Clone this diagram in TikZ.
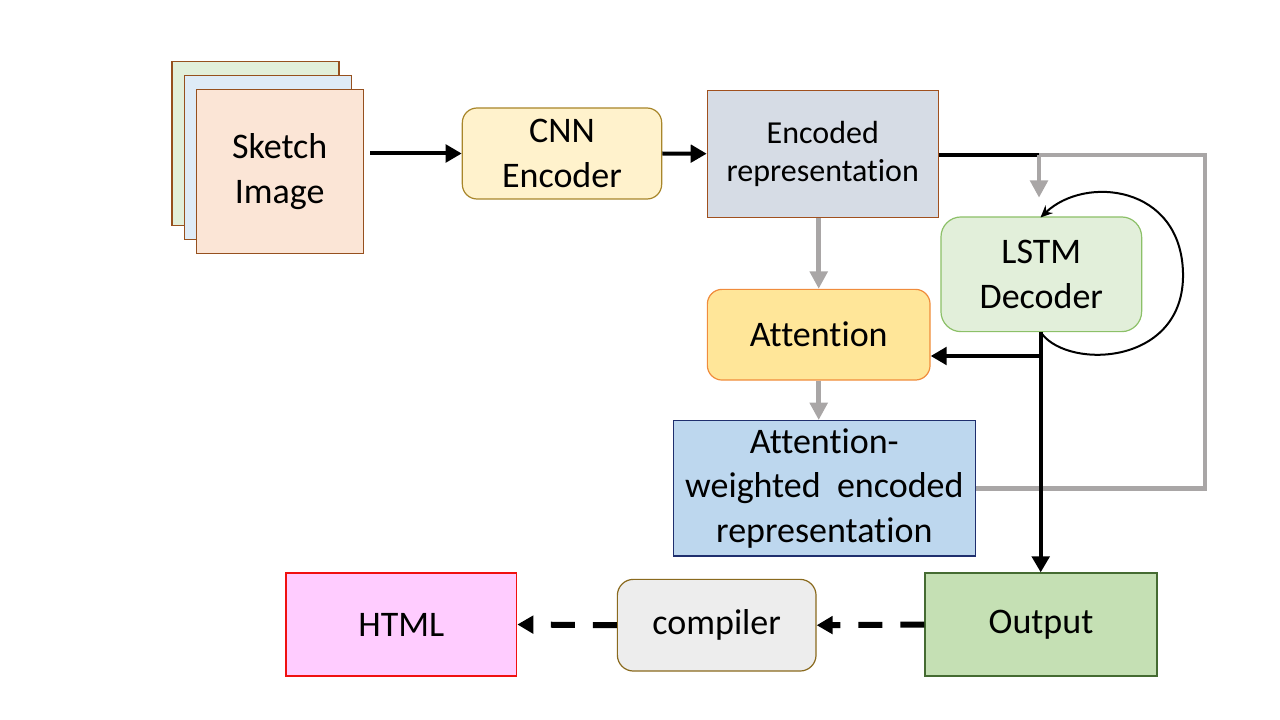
\documentclass[tikz,border=0pt]{standalone}
\usepackage{fontspec}
\setmainfont[Ligatures=NoCommon]{Carlito}
\usepackage{xcolor}
\definecolor{sheetborder}{RGB}{150, 80, 30}
\definecolor{sheetgreen}{HTML}{E2EFDA}
\definecolor{sheetblue}{HTML}{DEEBF7}
\definecolor{sheetpeach}{HTML}{FBE5D6}
\definecolor{cnnfill}{HTML}{FFF2CC}
\definecolor{cnnborder}{HTML}{A8862A}
\definecolor{encfill}{HTML}{D6DCE5}
\definecolor{encborder}{HTML}{A0501E}
\definecolor{lstmfill}{HTML}{E2EFDA}
\definecolor{lstmborder}{HTML}{8CC068}
\definecolor{attfill}{HTML}{FFE699}
\definecolor{attborder}{HTML}{F08C3C}
\definecolor{awfill}{HTML}{BDD7EE}
\definecolor{awborder}{HTML}{1F2F6E}
\definecolor{outfill}{HTML}{C5E0B4}
\definecolor{outborder}{HTML}{456B32}
\definecolor{compfill}{HTML}{EDEDED}
\definecolor{compborder}{HTML}{8A6A1E}
\definecolor{htmlfill}{HTML}{FFCCFF}
\definecolor{htmlborder}{HTML}{F01010}
\definecolor{linkgray}{HTML}{A9A6A6}
\usetikzlibrary{arrows.meta, positioning, calc}

\begin{document}
\begin{tikzpicture}[
    x=0.75pt, y=-0.75pt,
    bigfont/.style={font=\fontsize{27}{33.5}\selectfont},
    smallfont/.style={font=\fontsize{24}{28.5}\selectfont},
    sheet/.style={rectangle, draw=sheetborder, line width=0.9pt,
                  minimum width=125.25pt, minimum height=123pt, inner sep=0pt},
    block/.style={rectangle, line width=0.9pt, align=center, inner sep=0pt, bigfont},
    softblock/.style={block, rounded corners=11pt},
    flow/.style={-{Triangle[length=12pt, width=13pt]}, line width=3pt, black},
    feed/.style={-{Triangle[length=13pt, width=13pt]}, line width=3.5pt, linkgray},
    result/.style={-{Triangle[length=12pt, width=13pt]}, line width=4.5pt, black,
                   dash pattern=on 18pt off 13.5pt}
]
    \useasboundingbox (0,0) rectangle (1280,720);

    % Input sheets
    \node[sheet, fill=sheetgreen] (s1) at (255.5,143.3) {};
    \node[sheet, fill=sheetblue] (s2) at (268,157.5) {};
    \node[sheet, fill=sheetpeach, align=center, bigfont] (sketch) at (279.7,171.5) {Sketch\\Image};

    % Encoder side
    \node[softblock, fill=cnnfill, draw=cnnborder, minimum width=149.5pt, minimum height=68.25pt]
        (cnn) at (562,153.5) {CNN\\Encoder};
    \node[block, fill=encfill, draw=encborder, minimum width=173.25pt, minimum height=95.25pt, smallfont]
        (enc) at (822.8,153.7) {Encoded\\representation};
    \node[softblock, fill=attfill, draw=attborder, minimum width=167pt, minimum height=68pt]
        (att) at (818.7,334.7) {Attention};
    \node[block, fill=awfill, draw=awborder, minimum width=226.5pt, minimum height=101.5pt]
        (aw) at (824.3,488.3) {Attention-\\weighted~~encoded\\representation};

    % Decoder side
    \node[softblock, rounded corners=15pt, fill=lstmfill, draw=lstmborder,
          minimum width=150.5pt, minimum height=86pt]
        (lstm) at (1041.3,274.3) {LSTM\\Decoder};
    \node[block, fill=outfill, draw=outborder, minimum width=174pt, minimum height=77.25pt]
        (out) at (1041,624.5) {Output};
    \node[softblock, rounded corners=12pt, fill=compfill, draw=compborder,
          minimum width=149pt, minimum height=68.75pt]
        (comp) at (716.7,625.2) {compiler};
    \node[block, fill=htmlfill, draw=htmlborder, minimum width=173pt, minimum height=77.25pt]
        (html) at (401.4,624.5) {HTML};

    \coordinate (split) at (1039,155);
    \coordinate (branch) at (1040.7,356);
    \coordinate (loopstart) at (1042,334);
    \coordinate (loopend) at (1040.5,217.5);

    % Arrows
    \draw[flow, shorten <=5pt] (sketch.east |- cnn.west) -- (cnn.west);
    \draw[flow] (cnn.east) -- (enc.west);
    \draw[line width=3pt] (enc.east |- split) -- (split);
    \draw[line width=3.5pt, linkgray, line join=miter] (aw.east) -- (1205,488.3) -- (1205,155) -- (split);
    \draw[feed, shorten >=14pt] (split) -- (split |- lstm.north);
    \draw[feed] (att.north |- enc.south) -- (att.north);
    \draw[feed] (att.south) -- (att.south |- aw.north);
    \draw[line width=3pt] (lstm.south -| branch) -- (branch);
    \draw[flow] (branch) -- (branch |- out.north);
    \draw[flow] (branch) -- (branch -| att.east);
    \draw[line width=1.5pt, -{Stealth[length=9pt, width=8pt]}]
        (loopstart) .. controls (1070,370) and (1185,365) .. (1183,273)
        .. controls (1181,185) and (1085,175) .. (loopend);
    \draw[result] (out.west) -- (comp.east);
    \draw[result] (comp.west) -- (html.east);
\end{tikzpicture}
\end{document}
